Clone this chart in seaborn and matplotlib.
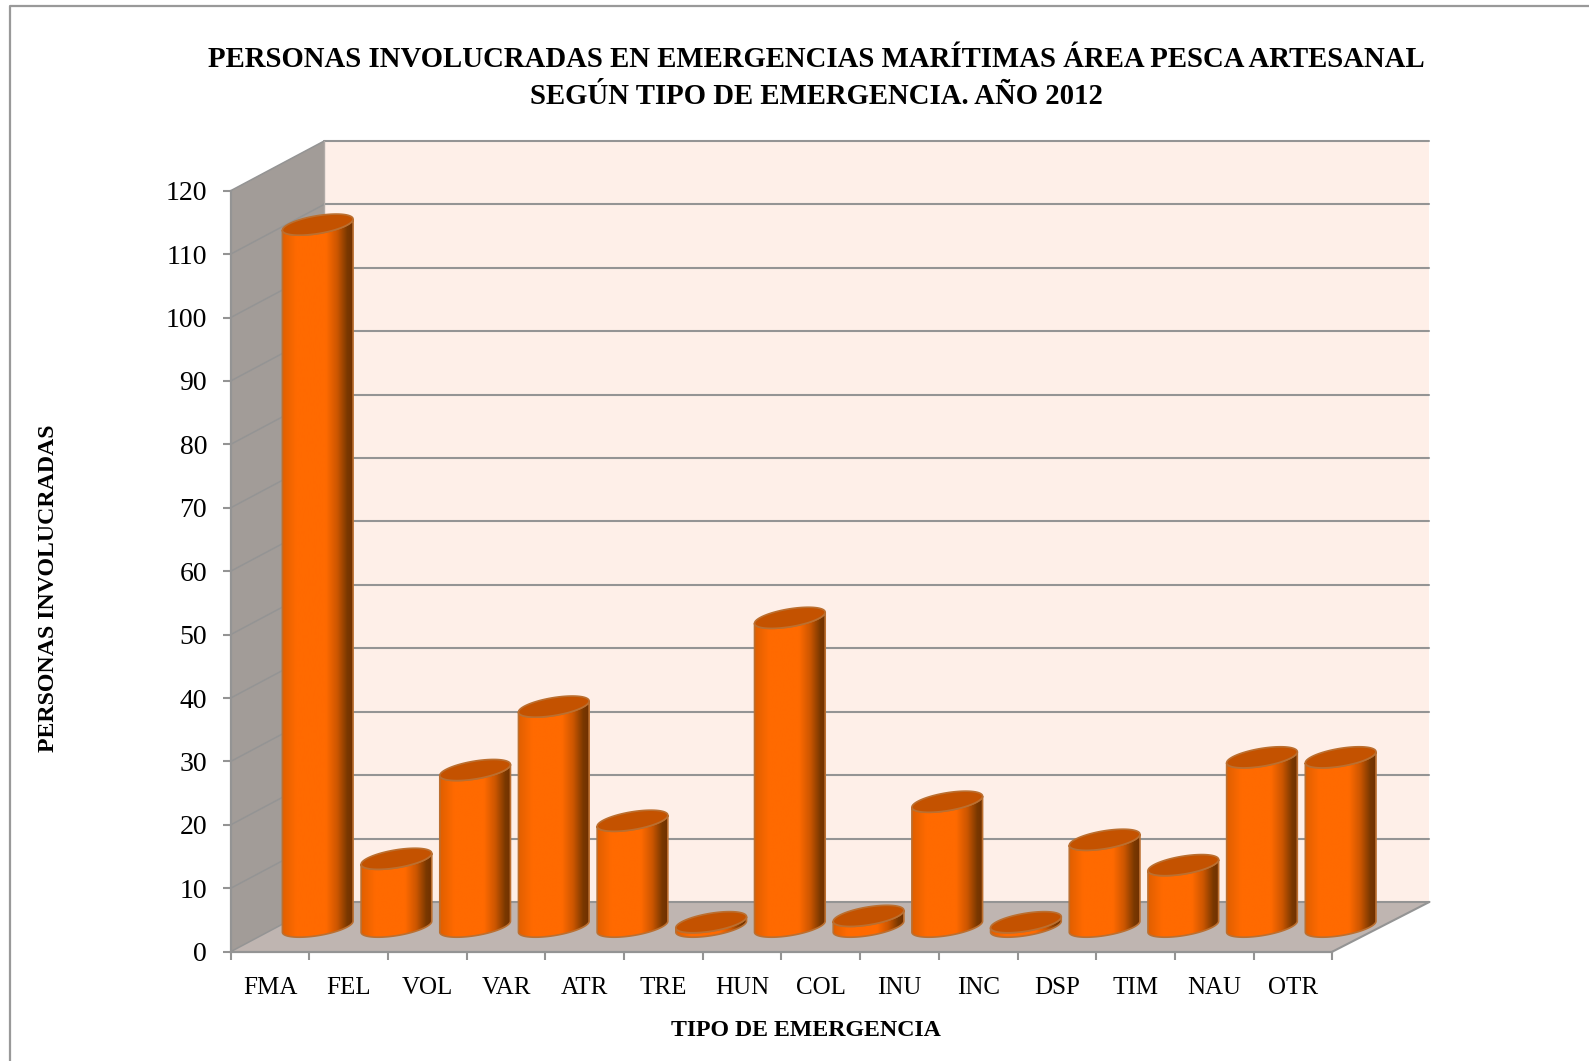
import numpy as np
import pandas as pd
import matplotlib.pyplot as plt
import seaborn as sns
from matplotlib.colors import LinearSegmentedColormap
from matplotlib.lines import Line2D
from matplotlib.patches import Polygon

#----------------------------DATA-----------------------------
tipos = ['FMA', 'FEL', 'VOL', 'VAR', 'ATR', 'TRE', 'HUN', 'COL', 'INU', 'INC', 'DSP', 'TIM', 'NAU', 'OTR']
personas = [111, 11, 25, 35, 17, 1, 49, 2, 20, 1, 14, 10, 27, 27]
y_ticks = list(range(0, 121, 10))
titulo = 'PERSONAS INVOLUCRADAS EN EMERGENCIAS MARÍTIMAS ÁREA PESCA ARTESANAL\nSEGÚN TIPO DE EMERGENCIA. AÑO 2012'
x_titulo = 'TIPO DE EMERGENCIA'
y_titulo = 'PERSONAS INVOLUCRADAS'

#----------------------------STYLE----------------------------
W, H = 1589, 1061
GRAY = '#949494'
DX_L, DX_R, DY = 1.19, 1.235, 7.85    # depth of the 3d box in data units
ELL_P, ELL_Q = 0.87, 1.42             # tilt and height of the bar ellipses
TOP_TRIM = 0.3                        # top face sits a little under the value
BAR_W = 0.898

sns.set_theme(style='white')
plt.rcParams['font.family'] = ['Liberation Serif', 'DejaVu Serif']

fig = plt.figure(figsize=(W / 100, H / 100), dpi=100)
ax = fig.add_axes([230.7 / W, 1 - 951.7 / H, (1332.3 - 230.7) / W, (951.7 - 190.7) / H])

df = pd.DataFrame({'tipo': tipos, 'personas': personas})
sns.barplot(data=df, x='tipo', y='personas', color='#ff6a00', saturation=1, width=BAR_W, ax=ax, zorder=3)
ax.set_xlim(-0.5, 13.5)
ax.set_ylim(0, 120)
ax.patch.set_visible(False)

#-------------------------3D BOX------------------------------
x0, x1, y1 = -0.5, 13.5, 120
back_l, back_r = x0 + DX_L, x1 + DX_R
ax.add_patch(Polygon([(back_l, DY), (back_r, DY), (back_r, y1 + DY), (back_l, y1 + DY)],
                     fc='#feefe8', ec='none', zorder=0, clip_on=False))
ax.add_patch(Polygon([(x0, 0), (back_l, DY), (back_l, y1 + DY), (x0, y1)],
                     fc='#a29c98', ec='none', zorder=0, clip_on=False))
ax.add_patch(Polygon([(x0, 0), (x1, 0), (back_r, DY), (back_l, DY)],
                     fc='#bfb5b1', ec='none', zorder=0, clip_on=False))
for v in y_ticks:
    ax.plot([back_l, back_r], [v + DY, v + DY], color=GRAY, lw=1.5, zorder=1, clip_on=False)
    ax.plot([x0, back_l], [v, v + DY], color=GRAY, lw=1.1, zorder=1, clip_on=False)
ax.plot([x1, back_r], [0, DY], color=GRAY, lw=1.5, zorder=1, clip_on=False)
ax.plot([back_l, back_l], [DY, y1 + DY], color='#b0aaa6', lw=1, zorder=1, clip_on=False)

#-------------------------CYLINDERS---------------------------
cyl_cmap = LinearSegmentedColormap.from_list('cyl', [
    (0.0, '#e05f00'), (0.2, '#ff6a00'), (0.62, '#ff6a00'),
    (0.78, '#cc5600'), (0.92, '#7a3800'), (1.0, '#6e3000')])
grad = np.linspace(0, 1, 256).reshape(1, -1)

for bar, v in zip(list(ax.patches), personas):
    cx = bar.get_x() + bar.get_width() / 2 + (DX_L + DX_R) / 4
    a = bar.get_width() / 2
    base = 3.95
    h = v - TOP_TRIM
    # keep seaborn's bar, moved to the middle of the box depth and inside the cylinder
    bar.set_x(cx - a)
    bar.set_y(base + ELL_P)
    bar.set_height(max(h - 2 * ELL_P, 0))
    bar.set_edgecolor('none')
    bar.set_clip_on(False)

    t = np.linspace(np.pi, 2 * np.pi, 60)
    top_x = cx + a * np.cos(t)
    top_y = base + h + ELL_P * np.cos(t) + ELL_Q * np.sin(t)
    bot_x = (cx + a * np.cos(t))[::-1]
    bot_y = (base + ELL_P * np.cos(t) + ELL_Q * np.sin(t))[::-1]
    body = np.vstack([np.column_stack([top_x, top_y]), np.column_stack([bot_x, bot_y])])
    im = ax.imshow(grad, cmap=cyl_cmap, aspect='auto', zorder=4, interpolation='bilinear',
                   extent=[cx - a, cx + a, base - 3, base + h + 3])
    # images get cut at the axes box otherwise, the last bar sticks out of it
    im.set_clip_box(fig.bbox)
    im.set_clip_path(Polygon(body, closed=True, transform=ax.transData))
    ax.add_patch(Polygon(body, closed=True, fc='none', ec='#bb6f30', lw=1.2, zorder=5, clip_on=False))

    tt = np.linspace(0, 2 * np.pi, 100)
    ell = np.column_stack([cx + a * np.cos(tt), base + h + ELL_P * np.cos(tt) + ELL_Q * np.sin(tt)])
    ax.add_patch(Polygon(ell, closed=True, fc='#c45200', ec='#bb6f30', lw=1.2, zorder=6, clip_on=False))

ax.set_xlim(-0.5, 13.5)
ax.set_ylim(0, 120)

#-------------------------AXES--------------------------------
for s in ['top', 'right']:
    ax.spines[s].set_visible(False)
for s in ['left', 'bottom']:
    ax.spines[s].set_color(GRAY)
    ax.spines[s].set_linewidth(1.6)
    ax.spines[s].set_zorder(2)

ax.set_yticks(y_ticks)
ax.set_xticks(np.arange(len(tipos)))
ax.set_xticklabels(tipos)
ax.set_xticks(np.arange(-0.5, 14, 1), minor=True)
ax.tick_params(axis='x', which='major', length=0, pad=18, labelsize=18, colors='black')
ax.tick_params(axis='x', which='minor', length=6, width=1.5, color=GRAY, direction='out', bottom=True)
ax.tick_params(axis='y', length=6, width=1.5, color=GRAY, left=True, pad=11, labelsize=20, labelcolor='black')
ax.set_xlabel('')
ax.set_ylabel('')

fig.text(816.8 / W, 1 - 78 / H, titulo, ha='center', va='center', fontsize=20.7, fontweight='bold',
         linespacing=1.48, color='black')
fig.text(805.6 / W, 1 - 1030.5 / H, x_titulo, ha='center', va='center', fontsize=17.2, fontweight='bold', color='black')
fig.text(48.6 / W, 1 - 588 / H, y_titulo, ha='center', va='center', rotation=90, fontsize=17.2, fontweight='bold', color='black')

# outer frame of the pasted chart
fig.add_artist(Line2D([9.5 / W, 9.5 / W, 1], [0, 1 - 6 / H, 1 - 6 / H], color='#999999', lw=1.6))

fig.savefig('out.png', dpi=100, facecolor='white')
